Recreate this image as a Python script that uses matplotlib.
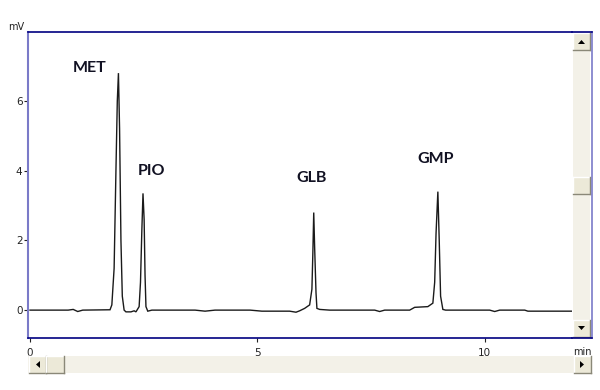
import matplotlib
matplotlib.use("Agg")
import matplotlib.pyplot as plt
from matplotlib.patches import Rectangle, Polygon
from matplotlib.lines import Line2D

# ---- data ----
time_min = [0.00, 0.84, 0.95, 1.05, 1.16, 1.76,
            1.80, 1.85, 1.89, 1.92, 1.945, 1.97, 2.00, 2.03, 2.07,
            2.11, 2.22, 2.29, 2.33, 2.40,
            2.43, 2.46, 2.485, 2.51, 2.53, 2.55,
            2.59, 2.68, 3.63, 3.85, 4.07, 4.84, 5.10, 5.71, 5.85, 5.93, 6.04, 6.15,
            6.20, 6.22, 6.24, 6.26, 6.29, 6.31,
            6.37, 6.59, 7.58, 7.69, 7.80, 8.35, 8.46, 8.75, 8.86,
            8.90, 8.93, 8.97, 9.00, 9.03, 9.08,
            9.14, 10.11, 10.22, 10.33, 10.88, 10.95, 11.91]
signal_mv = [0.00, 0.00, 0.02, -0.04, 0.00, 0.01,
             0.15, 1.2, 4.0, 6.0, 6.8, 5.2, 2.0, 0.4, 0.00,
             -0.05, -0.05, -0.02, -0.05, 0.10,
             0.8, 2.3, 3.35, 2.6, 1.0, 0.10,
             -0.03, 0.00, 0.00, -0.03, 0.00, 0.00, -0.03, -0.03, -0.06, -0.02, 0.05, 0.15,
             0.6, 1.6, 2.8, 1.8, 0.5, 0.05,
             0.02, 0.00, 0.00, -0.04, 0.00, 0.00, 0.08, 0.10, 0.20,
             0.8, 2.2, 3.4, 2.0, 0.4, 0.02,
             0.00, 0.00, -0.04, 0.00, 0.00, -0.03, -0.03]

peak_names = ["MET", "PIO", "GLB", "GMP"]
label_time = [0.95, 2.38, 5.85, 8.52]
label_mv = [6.95, 3.98, 3.78, 4.35]

x_ticks = [0, 5, 10]
y_ticks = [0, 2, 4, 6]

# ---- figure ----
W, H = 600, 390
fig = plt.figure(figsize=(6, 3.9), dpi=100)
fig.patch.set_facecolor("white")

def fx(x):
    return x / W

def fy(y):
    return 1 - y / H

L, R, T, B = 28, 572, 32, 338
ax = fig.add_axes([fx(L), fy(B), fx(R) - fx(L), fy(T) - fy(B)])
ax.plot(time_min, signal_mv, color="#1a1a1a", lw=1.0, solid_joinstyle="miter")
ax.set_xlim(-0.044, 11.92)
ax.set_ylim(-0.80, 7.98)
ax.set_xticks(x_ticks)
ax.set_yticks(y_ticks)
ax.tick_params(axis="both", labelsize=7.5, length=3, width=0.8, colors="#222222", pad=1)
ax.tick_params(axis="x", pad=4)
ax.spines["right"].set_visible(False)
ax.spines["left"].set_color("#7a7ac8")
ax.spines["left"].set_linewidth(1.5)
ax.spines["top"].set_color("#000080")
ax.spines["bottom"].set_color("#000080")
ax.spines["top"].set_linewidth(1.2)
ax.spines["bottom"].set_linewidth(1.2)

for name, tx, ty in zip(peak_names, label_time, label_mv):
    ax.text(tx, ty, name, fontsize=11.5, fontweight="bold", family="Lato",
            color="#111122", ha="left", va="center")

fig.text(fx(8), fy(27), "mV", fontsize=7, color="#222222", ha="left", va="center")
fig.text(fx(592), fy(352), "min", fontsize=7, color="#222222", ha="right", va="center")

# ---- scrollbars (screenshot chrome) ----
track = "#f3f1e8"
face = "#ece9d8"

def rect(x0, y0, x1, y1, fc, ec="none", lw=0.0):
    fig.patches.append(Rectangle((fx(x0), fy(y1)), fx(x1) - fx(x0), fy(y0) - fy(y1),
                                 transform=fig.transFigure, facecolor=fc,
                                 edgecolor=ec, lw=lw))

def button(x0, y0, x1, y1):
    rect(x0, y0, x1, y1, face)
    fig.lines.append(Line2D([fx(x0), fx(x1)], [fy(y0), fy(y0)], transform=fig.transFigure, color="white", lw=1))
    fig.lines.append(Line2D([fx(x0), fx(x0)], [fy(y0), fy(y1)], transform=fig.transFigure, color="white", lw=1))
    fig.lines.append(Line2D([fx(x0), fx(x1)], [fy(y1), fy(y1)], transform=fig.transFigure, color="#8a8878", lw=1))
    fig.lines.append(Line2D([fx(x1), fx(x1)], [fy(y0), fy(y1)], transform=fig.transFigure, color="#8a8878", lw=1))

def tri(pts):
    fig.patches.append(Polygon([(fx(a), fy(b)) for a, b in pts], closed=True,
                               transform=fig.transFigure, facecolor="black", edgecolor="none"))

# vertical
rect(573, 32, 590, 338, track)
button(573, 33, 590, 50)
tri([(578, 44), (585, 44), (581.5, 40)])
button(573, 177, 590, 194)
button(573, 320, 590, 337)
tri([(578, 326), (585, 326), (581.5, 330)])
fig.lines.append(Line2D([fx(591.5), fx(591.5)], [fy(32), fy(338)], transform=fig.transFigure, color="#7a7ac8", lw=1.2))
fig.lines.append(Line2D([fx(572), fx(592)], [fy(32), fy(32)], transform=fig.transFigure, color="#000080", lw=1.2))
fig.lines.append(Line2D([fx(572), fx(592)], [fy(338), fy(338)], transform=fig.transFigure, color="#000080", lw=1.2))

# horizontal
rect(28, 356, 591, 373, track)
button(29, 356, 46, 373)
tri([(36, 364.5), (40, 361), (40, 368)])
button(46, 356, 64, 373)
button(574, 356, 591, 373)
tri([(584, 364.5), (580, 361), (580, 368)])

fig.savefig("out.png", dpi=100, facecolor="white")
